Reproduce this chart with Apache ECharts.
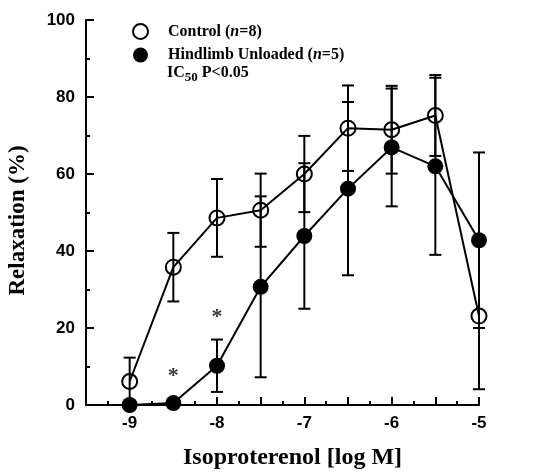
<!DOCTYPE html>
<html>
<head>
<meta charset="utf-8">
<script src="https://cdn.jsdelivr.net/npm/echarts@6/dist/echarts.min.js"></script>
<style>
  html, body { margin: 0; padding: 0; background: #fff; }
  #chart { width: 546px; height: 472px; }
</style>
</head>
<body>
<div id="chart"></div>
<script>
// concentrations, log M
const doses = [-9, -8.5, -8, -7.5, -7, -6.5, -6, -5.5, -5];
const xTickLabels = [-9, -8, -7, -6, -5];

// relaxation (%) mean and SEM per group
const controlMean = [6.1, 35.8, 48.6, 50.6, 60.0, 71.9, 71.5, 75.2, 23.1];
const controlSem = [6.2, 8.9, 10.1, 9.5, 9.9, 11.1, 11.4, 10.5, 19.0];
const unloadedMean = [0, 0.5, 10.2, 30.7, 43.9, 56.2, 66.9, 62.0, 42.8];
const unloadedSem = [0, 0, 6.8, 23.5, 18.9, 22.5, 15.3, 23.0, 22.8];

// significance marks
const stars = [[-8.5, 7.4], [-8, 22.8]];

const serif = '"Liberation Serif", "Times New Roman", serif';
const sans = '"Liberation Sans", Arial, sans-serif';

function pairs(means) {
  return doses.map((d, i) => [d, means[i]]);
}

function errRows(means, sems) {
  const rows = [];
  doses.forEach((d, i) => {
    if (sems[i] > 0) rows.push([d, means[i] - sems[i], means[i] + sems[i]]);
  });
  return rows;
}

function renderErr(params, api) {
  const x = api.value(0);
  const lo = api.coord([x, api.value(1)]);
  const hi = api.coord([x, api.value(2)]);
  const w = 6;
  const style = { stroke: '#000', lineWidth: 2 };
  return {
    type: 'group',
    children: [
      { type: 'line', shape: { x1: lo[0], y1: lo[1], x2: hi[0], y2: hi[1] }, style: style },
      { type: 'line', shape: { x1: lo[0] - w, y1: lo[1], x2: lo[0] + w, y2: lo[1] }, style: style },
      { type: 'line', shape: { x1: hi[0] - w, y1: hi[1], x2: hi[0] + w, y2: hi[1] }, style: style }
    ]
  };
}

const chart = echarts.init(document.getElementById('chart'));

chart.setOption({
  backgroundColor: '#fff',
  animation: false,
  grid: { left: 86, right: 67, top: 20, bottom: 67, outerBoundsMode: 'none', containLabel: false },
  legend: {
    data: ['Control', 'Hindlimb Unloaded'],
    orient: 'vertical',
    left: 132,
    top: 23,
    padding: 0,
    itemGap: 7,
    itemWidth: 15,
    itemHeight: 15,
    icon: 'circle',
    formatter: function (name) {
      return name === 'Control'
        ? '{b|Control (}{i|n}{b|=8)}'
        : '{b|Hindlimb Unloaded (}{i|n}{b|=5)}';
    },
    textStyle: {
      padding: [0, 0, 0, 15],
      rich: {
        b: { fontFamily: serif, fontWeight: 'bold', fontSize: 16, color: '#000' },
        i: { fontFamily: serif, fontWeight: 'bold', fontStyle: 'italic', fontSize: 16, color: '#000' }
      }
    }
  },
  graphic: [{
    type: 'text',
    left: 167,
    top: 65,
    style: {
      text: '{a|IC}{s|50}{a| P<0.05}',
      rich: {
        a: { fontFamily: serif, fontWeight: 'bold', fontSize: 16, lineHeight: 22, verticalAlign: 'middle', fill: '#000' },
        s: { fontFamily: serif, fontWeight: 'bold', fontSize: 13, lineHeight: 13, verticalAlign: 'bottom', fill: '#000' }
      }
    }
  }],
  xAxis: {
    type: 'value',
    min: -9.5,
    max: -5,
    interval: 0.5,
    name: 'Isoproterenol [log M]',
    nameLocation: 'middle',
    nameGap: 41,
    nameTextStyle: { fontFamily: serif, fontWeight: 'bold', fontSize: 24, color: '#000', padding: [0, 0, 0, 20] },
    axisLine: { lineStyle: { color: '#000', width: 2 } },
    axisTick: { inside: true, length: 8, lineStyle: { color: '#000', width: 2 } },
    minorTick: { show: true, splitNumber: 2, length: 4, lineStyle: { color: '#000', width: 2 } },
    splitLine: { show: false },
    axisLabel: {
      margin: 10,
      fontFamily: sans,
      fontWeight: 'bold',
      fontSize: 17,
      color: '#000',
      formatter: function (v) {
        return xTickLabels.indexOf(v) >= 0 ? String(v) : '';
      }
    }
  },
  yAxis: {
    type: 'value',
    min: 0,
    max: 100,
    interval: 20,
    name: 'Relaxation (%)',
    nameLocation: 'middle',
    nameGap: 56,
    nameTextStyle: { fontFamily: serif, fontWeight: 'bold', fontSize: 23, color: '#000', padding: [0, 16, 0, 0] },
    axisLine: { show: true, lineStyle: { color: '#000', width: 2 } },
    axisTick: { show: true, inside: true, length: 8, lineStyle: { color: '#000', width: 2 } },
    minorTick: { show: true, splitNumber: 2, length: 4, lineStyle: { color: '#000', width: 2 } },
    splitLine: { show: false },
    axisLabel: { margin: 11, fontFamily: sans, fontWeight: 'bold', fontSize: 17, color: '#000' }
  },
  series: [
    {
      name: 'control-sem',
      type: 'custom',
      renderItem: renderErr,
      data: errRows(controlMean, controlSem),
      z: 1,
      silent: true
    },
    {
      name: 'unloaded-sem',
      type: 'custom',
      renderItem: renderErr,
      data: errRows(unloadedMean, unloadedSem),
      z: 1,
      silent: true
    },
    {
      name: 'Control',
      type: 'line',
      data: pairs(controlMean),
      symbol: 'circle',
      symbolSize: 15,
      lineStyle: { color: '#000', width: 2 },
      itemStyle: { color: 'rgba(255,255,255,0)', borderColor: '#000', borderWidth: 2 },
      z: 3
    },
    {
      name: 'Hindlimb Unloaded',
      type: 'line',
      data: pairs(unloadedMean),
      symbol: 'circle',
      symbolSize: 16,
      lineStyle: { color: '#000', width: 2 },
      itemStyle: { color: '#000', borderColor: '#000', borderWidth: 0 },
      z: 4
    },
    {
      name: 'stars',
      type: 'scatter',
      data: stars,
      symbolSize: 0,
      silent: true,
      label: {
        show: true,
        position: 'inside',
        formatter: '*',
        fontFamily: serif,
        fontWeight: 'bold',
        fontSize: 22,
        color: '#000'
      }
    }
  ]
});
</script>
</body>
</html>
